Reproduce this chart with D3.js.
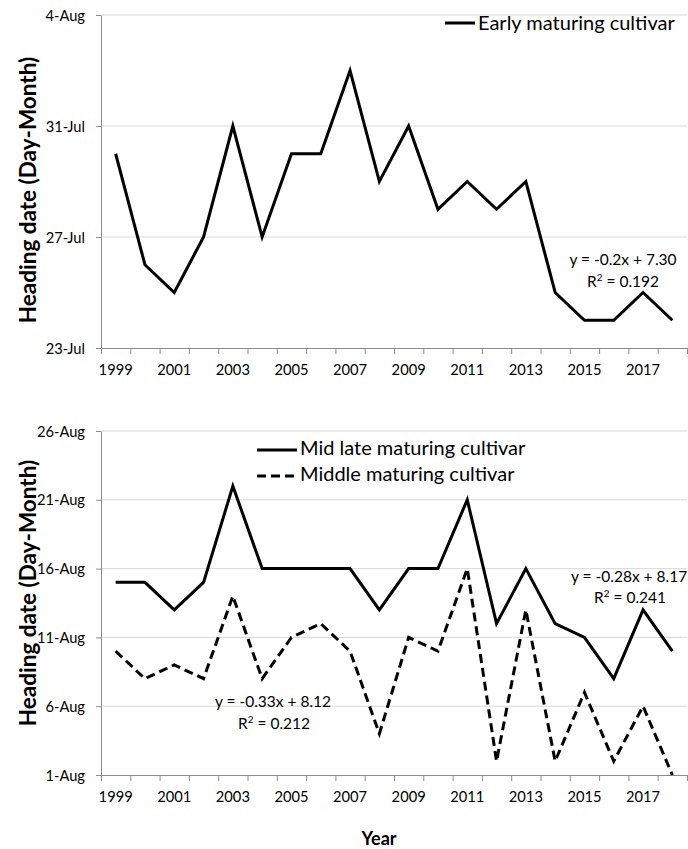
<!DOCTYPE html>
<html>
<head>
<meta charset="utf-8">
<script src="https://cdn.jsdelivr.net/npm/d3@7"></script>
<style>
  html, body { margin: 0; padding: 0; background: #fff; }
  svg { display: block; }
  text { font-family: Lato, "Open Sans", sans-serif; fill: #000; }
</style>
</head>
<body>
<svg id="chart" width="688" height="849"></svg>
<script>
// Years on the category axis
const years = d3.range(1999, 2019);
const yearLabels = [1999, 2001, 2003, 2005, 2007, 2009, 2011, 2013, 2015, 2017];

// Heading dates (Day-Month), one per year
const earlyDates = ["30-Jul","26-Jul","25-Jul","27-Jul","31-Jul","27-Jul","30-Jul","30-Jul","2-Aug","29-Jul",
                    "31-Jul","28-Jul","29-Jul","28-Jul","29-Jul","25-Jul","24-Jul","24-Jul","25-Jul","24-Jul"];
const midLateDates = ["15-Aug","15-Aug","13-Aug","15-Aug","22-Aug","16-Aug","16-Aug","16-Aug","16-Aug","13-Aug",
                      "16-Aug","16-Aug","21-Aug","12-Aug","16-Aug","12-Aug","11-Aug","8-Aug","13-Aug","10-Aug"];
const middleDates = ["10-Aug","8-Aug","9-Aug","8-Aug","14-Aug","8-Aug","11-Aug","12-Aug","10-Aug","4-Aug",
                     "11-Aug","10-Aug","16-Aug","2-Aug","13-Aug","2-Aug","7-Aug","2-Aug","6-Aug","1-Aug"];

// Y tick labels for each panel
const topTicks = ["23-Jul","27-Jul","31-Jul","4-Aug"];
const bottomTicks = ["1-Aug","6-Aug","11-Aug","16-Aug","21-Aug","26-Aug"];

const parseDay = d3.timeParse("%d-%b");
const fmtDay = d3.timeFormat("%-d-%b");

const svg = d3.select("#chart");
const left = 101, right = 687;
const gridColor = "#d9d9d9", axisColor = "#8c8c8c";

function panel(cfg) {
  const g = svg.append("g");
  const tickDates = cfg.ticks.map(parseDay);
  const y = d3.scaleTime()
    .domain(d3.extent(tickDates))
    .range([cfg.bottom, cfg.top]);
  const x = d3.scaleBand().domain(years).range([left, right]).padding(0);
  const xEdge = d3.scaleLinear().domain([0, years.length]).range([left, right]);

  // horizontal gridlines
  g.append("g").selectAll("line")
    .data(tickDates.slice(1))
    .join("line")
    .attr("x1", left).attr("x2", right)
    .attr("y1", d => y(d)).attr("y2", d => y(d))
    .attr("stroke", gridColor).attr("stroke-width", 1);

  // y axis
  const yAxis = g.append("g")
    .attr("transform", `translate(${left},0)`)
    .call(d3.axisLeft(y).tickValues(tickDates).tickFormat(fmtDay).tickSize(5).tickSizeOuter(0));
  yAxis.select(".domain").attr("stroke", axisColor);
  yAxis.selectAll(".tick line").attr("stroke", axisColor);
  yAxis.selectAll(".tick text")
    .attr("x", -16).attr("dy", "0.35em")
    .style("font-family", "Lato, sans-serif").style("font-size", "14.7px").attr("fill", "#000");

  // x axis: tick marks at category boundaries, labels at every other category
  const xTicks = g.append("g")
    .attr("transform", `translate(0,${cfg.bottom})`)
    .call(d3.axisBottom(xEdge).tickValues(d3.range(0, years.length + 1)).tickFormat("").tickSize(6).tickSizeOuter(0));
  xTicks.select(".domain").attr("stroke", axisColor);
  xTicks.selectAll(".tick line").attr("stroke", axisColor);

  const xLabels = g.append("g")
    .attr("transform", `translate(0,${cfg.bottom})`)
    .call(d3.axisBottom(x).tickValues(yearLabels).tickSize(0).tickPadding(17));
  xLabels.select(".domain").remove();
  xLabels.selectAll(".tick text")
    .style("font-family", "Lato, sans-serif").style("font-size", "14.7px").attr("fill", "#000");

  // series lines
  cfg.series.forEach(s => {
    const line = d3.line()
      .x((d, i) => x(years[i]) + x.bandwidth() / 2)
      .y(d => y(parseDay(d)));
    g.append("path")
      .datum(s.values)
      .attr("d", line)
      .attr("fill", "none")
      .attr("stroke", "#000")
      .attr("stroke-width", 3)
      .attr("stroke-linejoin", "miter")
      .attr("stroke-dasharray", s.dash || null);
  });

  // y axis title
  g.append("text")
    .attr("transform", `translate(36,${cfg.labelY}) rotate(-90)`)
    .attr("text-anchor", "middle")
    .style("font-size", "22.5px").style("font-weight", "bold")
    .text("Heading date (Day-Month)");

  // legend
  cfg.legend.forEach(l => {
    g.append("line")
      .attr("x1", l.x1).attr("x2", l.x2).attr("y1", l.y).attr("y2", l.y)
      .attr("stroke", "#000").attr("stroke-width", 3)
      .attr("stroke-dasharray", l.dash || null);
    g.append("text")
      .attr("x", l.x2 + 3).attr("y", l.ty)
      .style("font-size", "20px")
      .text(l.text);
  });

  // trend annotations
  cfg.notes.forEach(n => {
    const t = g.append("text")
      .attr("x", n.x).attr("y", n.y)
      .attr("text-anchor", n.anchor || "middle")
      .style("font-size", "15.5px");
    if (n.sup) {
      t.append("tspan").text("R");
      t.append("tspan").attr("dy", -6).style("font-size", "10px").text("2");
      t.append("tspan").attr("dy", 6).text(" = " + n.text);
    } else {
      t.text(n.text);
    }
  });
}

panel({
  top: 15, bottom: 348, ticks: topTicks, labelY: 190,
  series: [{ values: earlyDates }],
  legend: [{ x1: 445, x2: 475, y: 23, ty: 30, text: "Early maturing cultivar" }],
  notes: [
    { x: 623, y: 265, text: "y = -0.2x + 7.30" },
    { x: 623, y: 287, text: "0.192", sup: true }
  ]
});

panel({
  top: 431, bottom: 775, ticks: bottomTicks, labelY: 593,
  series: [{ values: midLateDates }, { values: middleDates, dash: "9,5" }],
  legend: [
    { x1: 257, x2: 297, y: 450, ty: 455, text: "Mid late maturing cultivar" },
    { x1: 257, x2: 297, y: 476, ty: 481, text: "Middle maturing cultivar", dash: "9,5" }
  ],
  notes: [
    { x: 273, y: 707, text: "y = -0.33x + 8.12" },
    { x: 274, y: 729, text: "0.212", sup: true },
    { x: 571, y: 582, text: "y = -0.28x + 8.17", anchor: "start" },
    { x: 630, y: 603, text: "0.241", sup: true }
  ]
});

// shared x axis title
svg.append("text")
  .attr("x", 379).attr("y", 845)
  .attr("text-anchor", "middle")
  .style("font-size", "18px").style("font-weight", "bold")
  .text("Year");
</script>
</body>
</html>
